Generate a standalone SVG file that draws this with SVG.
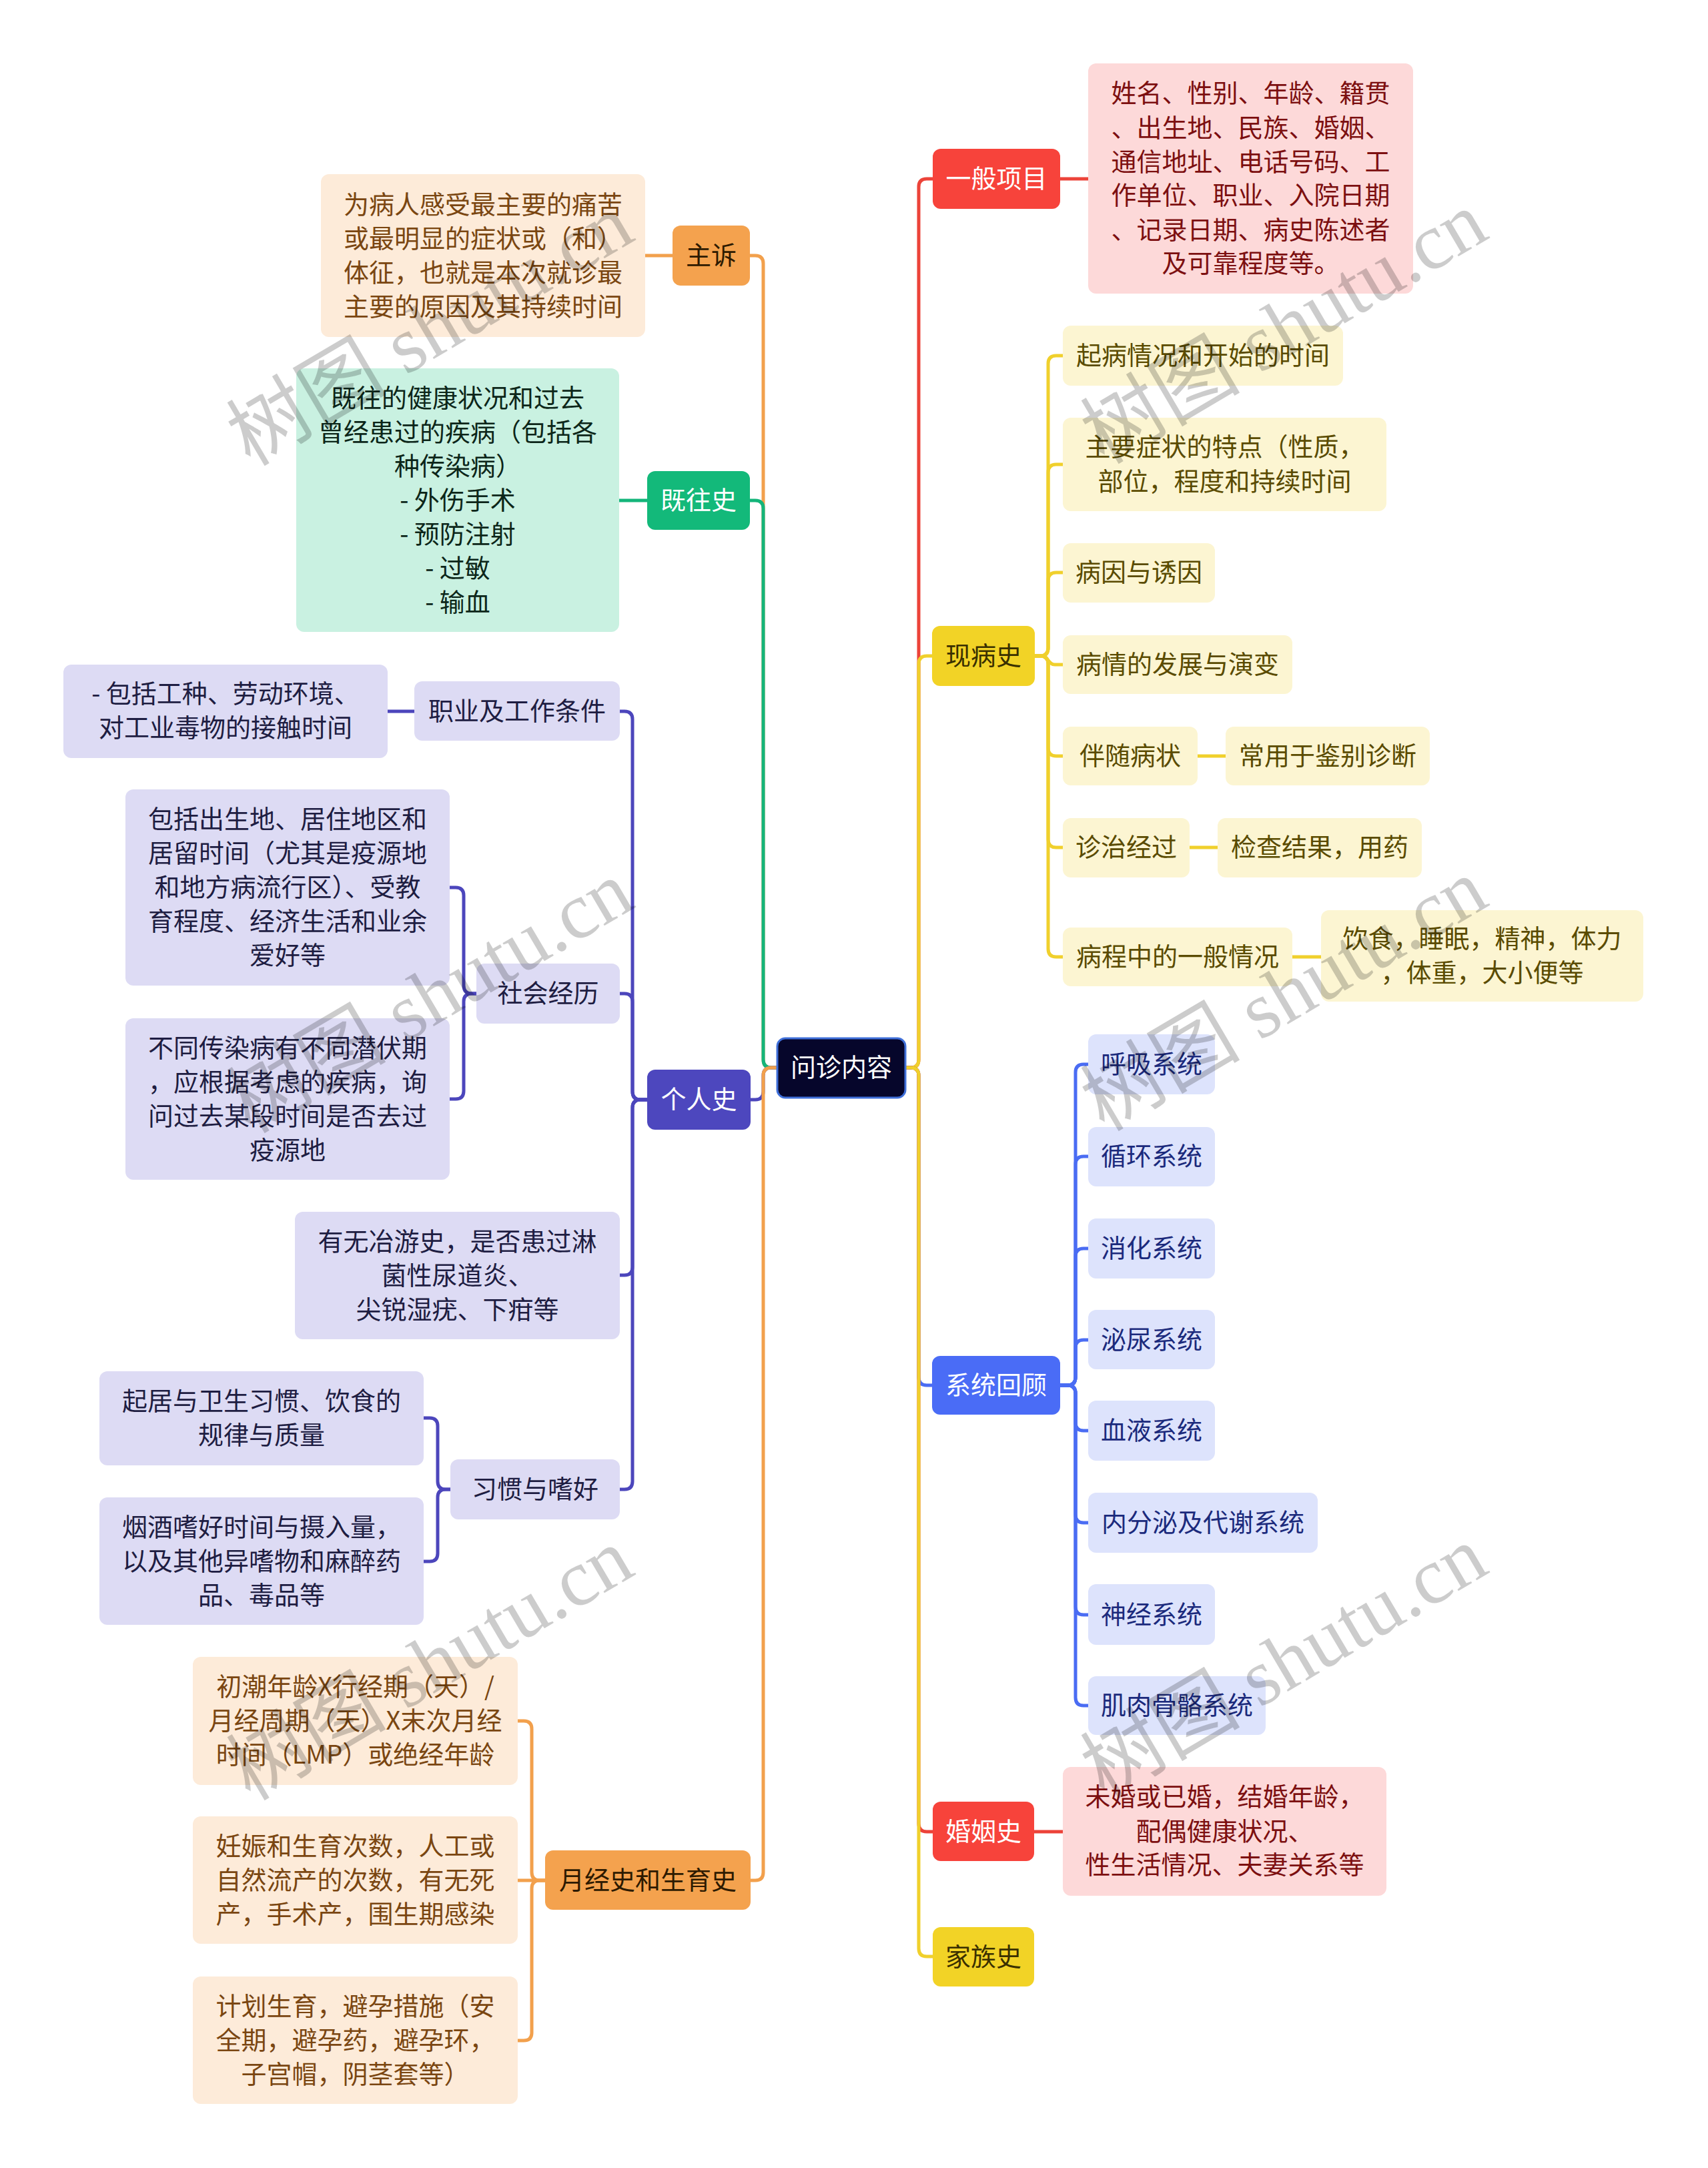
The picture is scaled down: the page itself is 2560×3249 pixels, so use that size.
<svg xmlns="http://www.w3.org/2000/svg" width="2560" height="3249" viewBox="0 0 2560 3249">
<style>
.t{font-family:"Noto Sans CJK SC","Noto Sans",sans-serif;font-size:38px;text-anchor:middle}
.wm{font-family:"Liberation Serif","Noto Sans CJK SC",serif;font-size:120px;fill:#000;fill-opacity:0.2}
.c{fill:none;stroke-width:5;stroke-linecap:round;stroke-linejoin:round}
.red{stroke:#ec4339}.yel{stroke:#f0d02c}.blu{stroke:#4a6cf3}.org{stroke:#f2a04c}.grn{stroke:#14b57a}.pur{stroke:#4c46bc}
.fRed{fill:#f7433b}.fPink{fill:#fdd9d9}.fYel{fill:#f2d326}.fLy{fill:#fcf5d2}.fBlu{fill:#4a6cf6}.fLb{fill:#dde3fc}
.fOrg{fill:#f4a24e}.fPe{fill:#fdebd9}.fGrn{fill:#13b97a}.fMint{fill:#c9f1e1}.fPur{fill:#4d47be}.fLav{fill:#dddbf4}
.tw{fill:#ffffff}.tPink{fill:#7c0f10}.tYm{fill:#3a3000}.tLy{fill:#5a4b00}.tLb{fill:#1b2a7c}.tOm{fill:#2d1a00}.tPe{fill:#7a4611}.tMint{fill:#0c2619}.tLav{fill:#1e1d42}
</style>
<g id="connectors">
<path class="c red" d="M1357,1600 H1365 Q1377,1600 1377,1588 V280 Q1377,268 1389,268 H1398"/>
<path class="c yel" d="M1357,1600 H1365 Q1377,1600 1377,1588 V995 Q1377,983 1389,983 H1397"/>
<path class="c blu" d="M1357,1600 H1365 Q1377,1600 1377,1612 V2064 Q1377,2076 1389,2076 H1397"/>
<path class="c red" d="M1357,1600 H1365 Q1377,1600 1377,1612 V2733 Q1377,2745 1389,2745 H1398"/>
<path class="c yel" d="M1357,1600 H1365 Q1377,1600 1377,1612 V2920 Q1377,2932 1389,2932 H1398"/>
<path class="c org" d="M1165,1600 H1156 Q1144,1600 1144,1588 V395 Q1144,383 1132,383 H1124"/>
<path class="c grn" d="M1165,1600 H1156 Q1144,1600 1144,1588 V762 Q1144,750 1132,750 H1124"/>
<path class="c pur" d="M1165,1600 H1156 Q1144,1600 1144,1612 V1636 Q1144,1648 1132,1648 H1125"/>
<path class="c org" d="M1165,1600 H1156 Q1144,1600 1144,1612 V2806 Q1144,2818 1132,2818 H1125"/>
<path class="c red" d="M1589,268 H1631"/>
<path class="c red" d="M1550,2745 H1593"/>
<path class="c org" d="M1008,383 H967"/>
<path class="c grn" d="M970,750 H928"/>
<path class="c yel" d="M1551,983 H1559 Q1571,983 1571,971 V545 Q1571,533 1583,533 H1593"/>
<path class="c yel" d="M1551,983 H1559 Q1571,983 1571,971 V708 Q1571,696 1583,696 H1593"/>
<path class="c yel" d="M1551,983 H1559 Q1571,983 1571,971 V870 Q1571,858 1583,858 H1593"/>
<path class="c yel" d="M1551,983 H1561 C1571,983 1571,996 1581,996 H1593"/>
<path class="c yel" d="M1551,983 H1559 Q1571,983 1571,995 V1121 Q1571,1133 1583,1133 H1593"/>
<path class="c yel" d="M1551,983 H1559 Q1571,983 1571,995 V1258 Q1571,1270 1583,1270 H1593"/>
<path class="c yel" d="M1551,983 H1559 Q1571,983 1571,995 V1422 Q1571,1434 1583,1434 H1593"/>
<path class="c yel" d="M1795,1133 H1837"/>
<path class="c yel" d="M1783,1270 H1825"/>
<path class="c yel" d="M1937,1434 H1980"/>
<path class="c blu" d="M1589,2076 H1600 Q1612,2076 1612,2064 V1607 Q1612,1595 1624,1595 H1631"/>
<path class="c blu" d="M1589,2076 H1600 Q1612,2076 1612,2064 V1745 Q1612,1733 1624,1733 H1631"/>
<path class="c blu" d="M1589,2076 H1600 Q1612,2076 1612,2064 V1883 Q1612,1871 1624,1871 H1631"/>
<path class="c blu" d="M1589,2076 H1600 Q1612,2076 1612,2064 V2020 Q1612,2008 1624,2008 H1631"/>
<path class="c blu" d="M1589,2076 H1600 Q1612,2076 1612,2088 V2132 Q1612,2144 1624,2144 H1631"/>
<path class="c blu" d="M1589,2076 H1600 Q1612,2076 1612,2088 V2270 Q1612,2282 1624,2282 H1631"/>
<path class="c blu" d="M1589,2076 H1600 Q1612,2076 1612,2088 V2408 Q1612,2420 1624,2420 H1631"/>
<path class="c blu" d="M1589,2076 H1600 Q1612,2076 1612,2088 V2544 Q1612,2556 1624,2556 H1631"/>
<path class="c pur" d="M970,1648 H960 Q948,1648 948,1636 V1078 Q948,1066 936,1066 H929"/>
<path class="c pur" d="M970,1648 H960 Q948,1648 948,1636 V1501 Q948,1489 936,1489 H929"/>
<path class="c pur" d="M970,1648 H960 Q948,1648 948,1660 V1899 Q948,1911 936,1911 H929"/>
<path class="c pur" d="M970,1648 H960 Q948,1648 948,1660 V2220 Q948,2232 936,2232 H929"/>
<path class="c pur" d="M621,1066 H581"/>
<path class="c pur" d="M714,1489 H707 Q695,1489 695,1477 V1342 Q695,1330 683,1330 H674"/>
<path class="c pur" d="M714,1489 H707 Q695,1489 695,1501 V1635 Q695,1647 683,1647 H674"/>
<path class="c pur" d="M675,2232 H668 Q656,2232 656,2220 V2137 Q656,2125 644,2125 H635"/>
<path class="c pur" d="M675,2232 H668 Q656,2232 656,2244 V2328 Q656,2340 644,2340 H635"/>
<path class="c org" d="M817,2818 H809 Q797,2818 797,2806 V2591 Q797,2579 785,2579 H776"/>
<path class="c org" d="M817,2818 H776"/>
<path class="c org" d="M817,2818 H809 Q797,2818 797,2830 V3046 Q797,3058 785,3058 H776"/>
</g>
<g id="root"><rect x="1165" y="1556" width="192" height="89" rx="12" fill="#06062b" stroke="#3f6fd9" stroke-width="3"/><text class="t tw" x="1261" y="1613">问诊内容</text></g>
<g id="n-yiban"><rect class="fRed" x="1398" y="223" width="191" height="90" rx="12"/><text class="t tw" x="1493.5" y="281">一般项目</text></g>
<g id="n-yiban-d"><rect class="fPink" x="1631" y="95" width="487" height="345" rx="12"/><text class="t tPink" x="1874.5"><tspan x="1874.5" y="153">姓名、性别、年龄、籍贯</tspan><tspan x="1874.5" y="205">、出生地、民族、婚姻、</tspan><tspan x="1874.5" y="256">通信地址、电话号码、工</tspan><tspan x="1874.5" y="306">作单位、职业、入院日期</tspan><tspan x="1874.5" y="358">、记录日期、病史陈述者</tspan><tspan x="1874.5" y="408">及可靠程度等。</tspan></text></g>
<g id="n-xianbing"><rect class="fYel" x="1397" y="938" width="154" height="90" rx="12"/><text class="t tYm" x="1474" y="996">现病史</text></g>
<g id="n-x1"><rect class="fLy" x="1593" y="488" width="420" height="90" rx="12"/><text class="t tLy" x="1803" y="546">起病情况和开始的时间</text></g>
<g id="n-x2"><rect class="fLy" x="1593" y="626" width="485" height="140" rx="12"/><text class="t tLy"><tspan x="1835.5" y="683">主要症状的特点（性质，</tspan><tspan x="1835.5" y="735">部位，程度和持续时间</tspan></text></g>
<g id="n-x3"><rect class="fLy" x="1593" y="814" width="228" height="89" rx="12"/><text class="t tLy" x="1707" y="871">病因与诱因</text></g>
<g id="n-x4"><rect class="fLy" x="1593" y="952" width="344" height="88" rx="12"/><text class="t tLy" x="1765" y="1009">病情的发展与演变</text></g>
<g id="n-x5"><rect class="fLy" x="1593" y="1089" width="202" height="88" rx="12"/><text class="t tLy" x="1694" y="1146">伴随病状</text></g>
<g id="n-x5d"><rect class="fLy" x="1837" y="1089" width="306" height="88" rx="12"/><text class="t tLy" x="1990" y="1146">常用于鉴别诊断</text></g>
<g id="n-x6"><rect class="fLy" x="1593" y="1226" width="190" height="89" rx="12"/><text class="t tLy" x="1688" y="1283">诊治经过</text></g>
<g id="n-x6d"><rect class="fLy" x="1825" y="1226" width="306" height="89" rx="12"/><text class="t tLy" x="1978" y="1283">检查结果，用药</text></g>
<g id="n-x7"><rect class="fLy" x="1593" y="1390" width="344" height="88" rx="12"/><text class="t tLy" x="1765" y="1447">病程中的一般情况</text></g>
<g id="n-x7d"><rect class="fLy" x="1980" y="1364" width="483" height="137" rx="12"/><text class="t tLy"><tspan x="2221.5" y="1420">饮食，睡眠，精神，体力</tspan><tspan x="2221.5" y="1471">，体重，大小便等</tspan></text></g>
<g id="n-xitong"><rect class="fBlu" x="1397" y="2032" width="192" height="88" rx="12"/><text class="t tw" x="1493" y="2089">系统回顾</text></g>
<g id="n-s1"><rect class="fLb" x="1631" y="1550" width="190" height="90" rx="12"/><text class="t tLb" x="1726" y="1608">呼吸系统</text></g>
<g id="n-s2"><rect class="fLb" x="1631" y="1689" width="190" height="89" rx="12"/><text class="t tLb" x="1726" y="1746">循环系统</text></g>
<g id="n-s3"><rect class="fLb" x="1631" y="1826" width="190" height="90" rx="12"/><text class="t tLb" x="1726" y="1884">消化系统</text></g>
<g id="n-s4"><rect class="fLb" x="1631" y="1963" width="190" height="89" rx="12"/><text class="t tLb" x="1726" y="2021">泌尿系统</text></g>
<g id="n-s5"><rect class="fLb" x="1631" y="2099" width="190" height="90" rx="12"/><text class="t tLb" x="1726" y="2157">血液系统</text></g>
<g id="n-s6"><rect class="fLb" x="1631" y="2237" width="344" height="90" rx="12"/><text class="t tLb" x="1803" y="2295">内分泌及代谢系统</text></g>
<g id="n-s7"><rect class="fLb" x="1631" y="2374" width="190" height="91" rx="12"/><text class="t tLb" x="1726" y="2433">神经系统</text></g>
<g id="n-s8"><rect class="fLb" x="1631" y="2512" width="266" height="88" rx="12"/><text class="t tLb" x="1764" y="2569">肌肉骨骼系统</text></g>
<g id="n-hunyin"><rect class="fRed" x="1398" y="2700" width="152" height="89" rx="12"/><text class="t tw" x="1474" y="2758">婚姻史</text></g>
<g id="n-hunyin-d"><rect class="fPink" x="1593" y="2648" width="485" height="193" rx="12"/><text class="t tPink"><tspan x="1835.5" y="2706">未婚或已婚，结婚年龄，</tspan><tspan x="1835.5" y="2758">配偶健康状况、</tspan><tspan x="1835.5" y="2808">性生活情况、夫妻关系等</tspan></text></g>
<g id="n-jiazu"><rect class="fYel" x="1398" y="2888" width="152" height="89" rx="12"/><text class="t tYm" x="1474" y="2946">家族史</text></g>
<g id="n-zhusu"><rect class="fOrg" x="1008" y="338" width="116" height="90" rx="12"/><text class="t tOm" x="1066" y="396">主诉</text></g>
<g id="n-zhusu-d"><rect class="fPe" x="481" y="261" width="486" height="244" rx="12"/><text class="t tPe"><tspan x="724" y="320">为病人感受最主要的痛苦</tspan><tspan x="724" y="371">或最明显的症状或（和）</tspan><tspan x="724" y="422">体征，也就是本次就诊最</tspan><tspan x="724" y="473">主要的原因及其持续时间</tspan></text></g>
<g id="n-jiwang"><rect class="fGrn" x="970" y="706" width="154" height="88" rx="12"/><text class="t tw" x="1047" y="763">既往史</text></g>
<g id="n-jiwang-d"><rect class="fMint" x="444" y="552" width="484" height="395" rx="12"/><text class="t tMint"><tspan x="686" y="610">既往的健康状况和过去</tspan><tspan x="686" y="661">曾经患过的疾病（包括各</tspan><tspan x="686" y="712">种传染病）</tspan><tspan x="686" y="763">- 外伤手术</tspan><tspan x="686" y="814">- 预防注射</tspan><tspan x="686" y="865">- 过敏</tspan><tspan x="686" y="916">- 输血</tspan></text></g>
<g id="n-geren"><rect class="fPur" x="970" y="1603" width="155" height="90" rx="12"/><text class="t tw" x="1047.5" y="1661">个人史</text></g>
<g id="n-zhiye"><rect class="fLav" x="621" y="1021" width="308" height="89" rx="12"/><text class="t tLav" x="775" y="1079">职业及工作条件</text></g>
<g id="n-zhiye-d"><rect class="fLav" x="95" y="996" width="486" height="140" rx="12"/><text class="t tLav"><tspan x="338" y="1053">- 包括工种、劳动环境、</tspan><tspan x="338" y="1104">对工业毒物的接触时间</tspan></text></g>
<g id="n-shehui"><rect class="fLav" x="714" y="1444" width="215" height="90" rx="12"/><text class="t tLav" x="821.5" y="1502">社会经历</text></g>
<g id="n-shehui-d1"><rect class="fLav" x="188" y="1183" width="486" height="294" rx="12"/><text class="t tLav"><tspan x="431" y="1241">包括出生地、居住地区和</tspan><tspan x="431" y="1292">居留时间（尤其是疫源地</tspan><tspan x="431" y="1343">和地方病流行区）、受教</tspan><tspan x="431" y="1394">育程度、经济生活和业余</tspan><tspan x="431" y="1445">爱好等</tspan></text></g>
<g id="n-shehui-d2"><rect class="fLav" x="188" y="1526" width="486" height="242" rx="12"/><text class="t tLav"><tspan x="431" y="1584">不同传染病有不同潜伏期</tspan><tspan x="431" y="1635">，应根据考虑的疾病，询</tspan><tspan x="431" y="1686">问过去某段时间是否去过</tspan><tspan x="431" y="1737">疫源地</tspan></text></g>
<g id="n-yeyou"><rect class="fLav" x="442" y="1816" width="487" height="191" rx="12"/><text class="t tLav"><tspan x="685.5" y="1874">有无冶游史，是否患过淋</tspan><tspan x="685.5" y="1925">菌性尿道炎、</tspan><tspan x="685.5" y="1976">尖锐湿疣、下疳等</tspan></text></g>
<g id="n-xiguan"><rect class="fLav" x="675" y="2187" width="254" height="90" rx="12"/><text class="t tLav" x="802" y="2245">习惯与嗜好</text></g>
<g id="n-xiguan-d1"><rect class="fLav" x="149" y="2055" width="486" height="141" rx="12"/><text class="t tLav"><tspan x="392" y="2113">起居与卫生习惯、饮食的</tspan><tspan x="392" y="2164">规律与质量</tspan></text></g>
<g id="n-xiguan-d2"><rect class="fLav" x="149" y="2244" width="486" height="191" rx="12"/><text class="t tLav"><tspan x="392" y="2302">烟酒嗜好时间与摄入量，</tspan><tspan x="392" y="2353">以及其他异嗜物和麻醉药</tspan><tspan x="392" y="2404">品、毒品等</tspan></text></g>
<g id="n-yuejing"><rect class="fOrg" x="817" y="2773" width="308" height="89" rx="12"/><text class="t tOm" x="971" y="2831">月经史和生育史</text></g>
<g id="n-yuejing-d1"><rect class="fPe" x="289" y="2483" width="487" height="192" rx="12"/><text class="t tPe"><tspan x="532.5" y="2541">初潮年龄X行经期（天）/</tspan><tspan x="532.5" y="2592">月经周期（天）X末次月经</tspan><tspan x="532.5" y="2643">时间（LMP）或绝经年龄</tspan></text></g>
<g id="n-yuejing-d2"><rect class="fPe" x="289" y="2722" width="487" height="191" rx="12"/><text class="t tPe"><tspan x="532.5" y="2780">妊娠和生育次数，人工或</tspan><tspan x="532.5" y="2831">自然流产的次数，有无死</tspan><tspan x="532.5" y="2882">产，手术产，围生期感染</tspan></text></g>
<g id="n-yuejing-d3"><rect class="fPe" x="289" y="2962" width="487" height="191" rx="12"/><text class="t tPe"><tspan x="532.5" y="3020">计划生育，避孕措施（安</tspan><tspan x="532.5" y="3071">全期，避孕药，避孕环，</tspan><tspan x="532.5" y="3122">子宫帽，阴茎套等）</tspan></text></g>
<g id="watermarks">
<text class="wm" x="375" y="700" transform="rotate(-30.5 375 700)">树图 shutu.cn</text>
<text class="wm" x="1655" y="697" transform="rotate(-30.5 1655 697)">树图 shutu.cn</text>
<text class="wm" x="375" y="1700" transform="rotate(-30.5 375 1700)">树图 shutu.cn</text>
<text class="wm" x="1655" y="1697" transform="rotate(-30.5 1655 1697)">树图 shutu.cn</text>
<text class="wm" x="375" y="2700" transform="rotate(-30.5 375 2700)">树图 shutu.cn</text>
<text class="wm" x="1655" y="2697" transform="rotate(-30.5 1655 2697)">树图 shutu.cn</text>
</g>
</svg>
